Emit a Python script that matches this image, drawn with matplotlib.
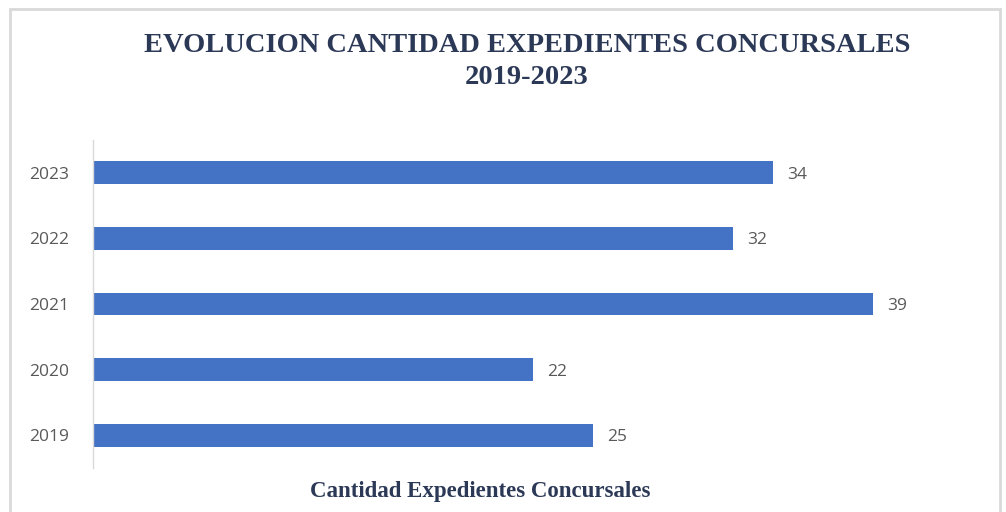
import matplotlib.pyplot as plt
from matplotlib.patches import Rectangle

# expedientes concursales por año
years = ['2019', '2020', '2021', '2022', '2023']
counts = [25, 22, 39, 32, 34]

bar_color = '#4472C4'
navy = '#2B3856'
grey_txt = '#595959'

fig = plt.figure(figsize=(10.06, 5.12), dpi=100)
fig.patch.set_facecolor('white')

# thin grey frame around the chart area
fig.patches.append(Rectangle((10 / 1006, -0.05), 990 / 1006, 1 - 9 / 512 + 0.05,
                             transform=fig.transFigure, fill=False,
                             edgecolor='#D9D9D9', linewidth=2))

ax = fig.add_axes([93 / 1006, 44 / 512, 900 / 1006, 328 / 512])
pos = range(len(years))
bars = ax.barh(pos, counts, height=0.35, color=bar_color)

for b, v in zip(bars, counts):
    ax.text(b.get_width() + 0.7, b.get_y() + b.get_height() / 2, str(v),
            va='center_baseline', ha='left', fontsize=12.5, color=grey_txt,
            family='Open Sans')

ax.set_xlim(0, 45)
ax.set_ylim(-0.5, 4.5)
ax.set_yticks(list(pos))
ax.set_yticklabels(years, fontsize=12.5, color=grey_txt, family='Open Sans')
ax.tick_params(axis='y', length=0, pad=17)
ax.set_xticks([])
for s in ['top', 'right', 'bottom']:
    ax.spines[s].set_visible(False)
ax.spines['left'].set_color('#D9D9D9')
ax.spines['left'].set_linewidth(1)

fig.text(527 / 1006, 1 - 45 / 512, 'EVOLUCION CANTIDAD EXPEDIENTES CONCURSALES',
         ha='center', va='center', fontsize=20.5, fontweight='bold',
         family='Liberation Serif', color=navy)
fig.text(527 / 1006, 1 - 77 / 512, '2019-2023',
         ha='center', va='center', fontsize=20.5, fontweight='bold',
         family='Liberation Serif', color=navy)
fig.text(480 / 1006, 1 - 492 / 512, 'Cantidad Expedientes Concursales',
         ha='center', va='center', fontsize=16.5, fontweight='bold',
         family='Liberation Serif', color=navy)

fig.savefig('out.png', dpi=100, facecolor='white')
